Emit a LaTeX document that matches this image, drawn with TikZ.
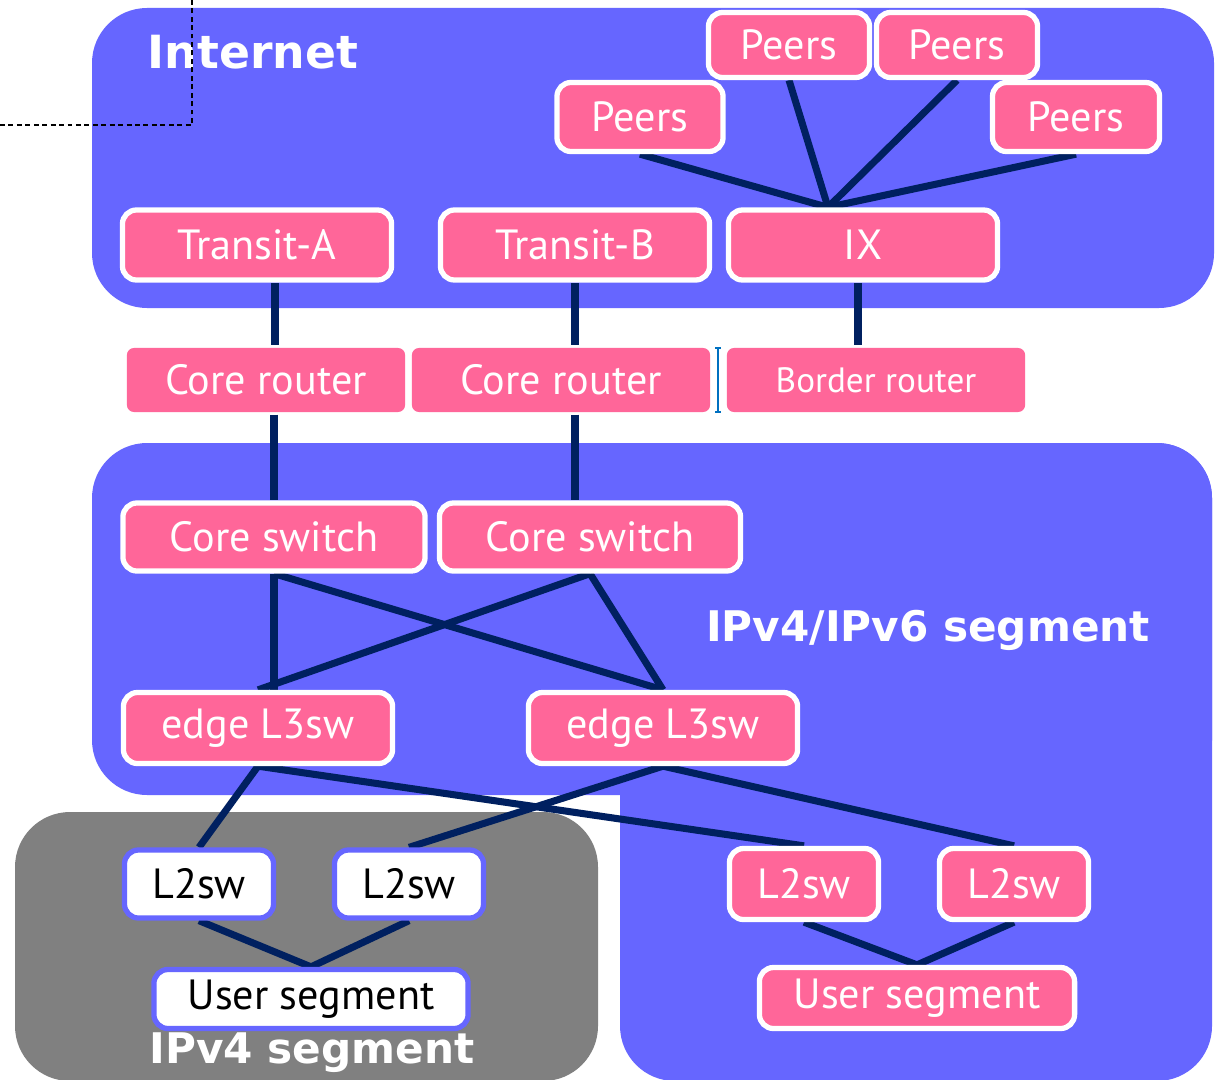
\documentclass[tikz,border=0pt]{standalone}
\usepackage{fontspec}
\setmainfont{PT Sans}
\newfontfamily\headfont{DejaVu Sans}
\usetikzlibrary{positioning}
\definecolor{netblue}{HTML}{6666FF}
\definecolor{boxpink}{HTML}{FF6699}
\definecolor{linknavy}{HTML}{002060}
\definecolor{vfourgray}{HTML}{808080}
\definecolor{tickblue}{HTML}{0070C0}
\pgfdeclarelayer{zones}
\pgfdeclarelayer{wires}
\pgfsetlayers{zones,wires,main}
\tikzset{
  dev/.style={fill=boxpink,draw=white,line width=1.5pt,rounded corners=4pt,text=white,inner sep=0pt,font=\fontsize{12}{14}\selectfont},
  devw/.style={dev,fill=white,draw=netblue,text=black},
  rtr/.style={dev,draw=none,rounded corners=2pt},
  wire/.style={draw=linknavy,line width=2pt},
  zone/.style={rounded corners=0.55cm},
  zonelabel/.style={text=white,inner sep=0pt,font=\headfont\bfseries\fontsize{12}{14}\selectfont}
}

\begin{document}
\begin{tikzpicture}[x=0.01cm,y=-0.01cm]
	\useasboundingbox (0,0) rectangle (1216,1079);

    % zones
	\begin{pgfonlayer}{zones}
	\fill[white] (0,0) rectangle (1216,1079);
	\fill[netblue,zone] (92,8) rectangle (1214,308);
	\fill[netblue,zone] (92,443) rectangle (1212,795);
	\fill[netblue,zone] (620,443) rectangle (1212,1081);
	\fill[vfourgray,zone] (15,812) rectangle (598,1081);
	\end{pgfonlayer}

	\node[zonelabel,font=\headfont\bfseries\fontsize{13}{15}\selectfont] (inet) at (253,52) {Internet};
	\node[zonelabel] (dual) at (928,630) {IPv4/IPv6 segment};
	\node[zonelabel] (vfour) at (312,1053) {IPv4 segment};

    % internet side
	\foreach \n/\x/\y/\w/\h in {peersA/640/117/1.66/0.69, peersB/789/45/1.61/0.65, peersC/957/45/1.61/0.65, peersD/1076/117/1.67/0.69}
		\node[dev,minimum width=\w cm,minimum height=\h cm] (\n) at (\x,\y) {Peers};
	\foreach \n/\x/\t in {transA/257/Transit-A, transB/575/Transit-B, ix/863/IX}
		\node[dev,minimum width=2.69cm,minimum height=0.70cm] (\n) at (\x,245) {\t};

    % routers
	\node[rtr,minimum width=2.78cm,minimum height=0.64cm] (corerA) at (266,380) {Core router};
	\node[rtr,minimum width=2.98cm,minimum height=0.64cm] (corerB) at (561,380) {Core router};
	\node[rtr,minimum width=2.98cm,minimum height=0.64cm,font=\fontsize{10}{12}\selectfont] (border) at (876,380) {Border router};
	\draw[tickblue,line width=0.5pt] (715,348) -- (721,348) (718,348) -- (718,412) (715,412) -- (721,412);

    % switches
	\node[dev,minimum width=3.02cm,minimum height=0.68cm] (coreswA) at (274,537) {Core switch};
	\node[dev,minimum width=3.01cm,minimum height=0.68cm] (coreswB) at (590,537) {Core switch};
	\node[dev,minimum width=2.69cm,minimum height=0.71cm] (edgeA) at (258,728) {edge L3sw};
	\node[dev,minimum width=2.69cm,minimum height=0.71cm] (edgeB) at (663,728) {edge L3sw};

    % access
	\node[devw,minimum width=1.49cm,minimum height=0.68cm] (ltwoA) at (199,884) {L2sw};
	\node[devw,minimum width=1.49cm,minimum height=0.68cm] (ltwoB) at (409,884) {L2sw};
	\node[devw,minimum width=3.14cm,minimum height=0.59cm] (userA) at (311,999) {\raisebox{-0.5ex}{User segment}};
	\node[dev,minimum width=1.49cm,minimum height=0.71cm] (ltwoC) at (804,884) {L2sw};
	\node[dev,minimum width=1.49cm,minimum height=0.71cm] (ltwoD) at (1014,884) {L2sw};
	\node[dev,minimum width=3.15cm,minimum height=0.61cm] (userB) at (917,998) {\raisebox{-0.4ex}{User segment}};

    % connectors
	\begin{pgfonlayer}{wires}
	\foreach \p in {peersA,peersB,peersC,peersD} \draw[wire] (\p.south) -- ([xshift=-0.35cm]ix.north);
	\draw[wire] ([xshift=0.18cm]transA.south) -- ([xshift=0.18cm]transA.south |- corerA.north);
	\draw[wire] (coreswA.north |- corerA.south) -- (coreswA.north);
	\draw[wire] (transB.south) -- (transB.south |- corerB.north);
	\draw[wire] (transB.south |- corerB.south) -- (transB.south |- coreswB.north);
	\draw[wire] ([xshift=-0.05cm]ix.south) -- ([xshift=-0.05cm]ix.south |- border.north);
	\draw[wire] (coreswA.south) -- (coreswA.south |- edgeA.north);
	\draw[wire] (coreswA.south) -- (edgeB.north);
	\draw[wire] (coreswB.south) -- (edgeA.north);
	\draw[wire] (coreswB.south) -- (edgeB.north);
	\foreach \e/\a/\b in {edgeA/ltwoA/ltwoC, edgeB/ltwoB/ltwoD}
		\draw[wire] (\a.north) -- (\e.south) -- (\b.north);
	\foreach \u/\a/\b in {userA/ltwoA/ltwoB, userB/ltwoC/ltwoD}
		\draw[wire] (\a.south) -- (\u.north) -- (\b.south);
	\end{pgfonlayer}

	\draw[line width=0.35pt,dash pattern=on 1.4pt off 1pt] (0,125) -| (192,0);
\end{tikzpicture}
\end{document}
